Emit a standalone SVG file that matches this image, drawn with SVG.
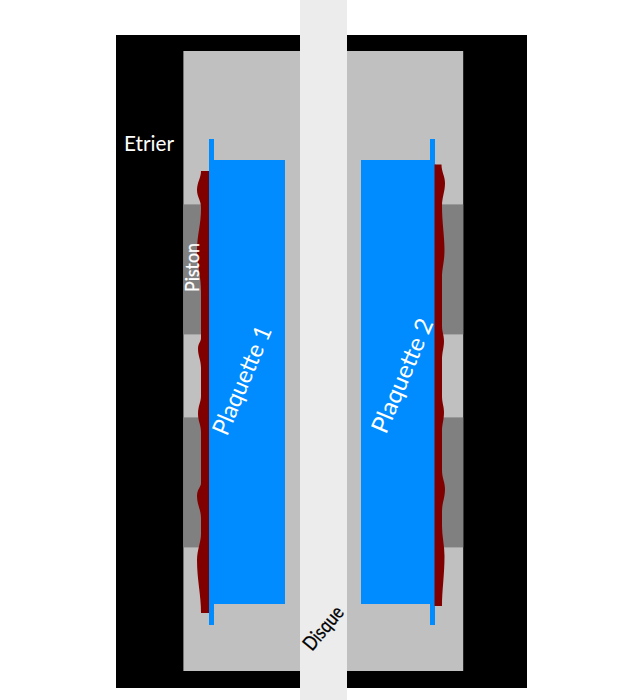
<svg xmlns="http://www.w3.org/2000/svg" width="639" height="700" viewBox="0 0 639 700">
<style>
.lbl{font-family:"Lato","Open Sans","Liberation Sans",sans-serif}
.pad{fill:#008cff}
.lining{fill:#800000}
.piston{fill:#808080}
</style>
<rect width="639" height="700" fill="#ffffff"/>
<g id="etrier">
<rect x="116" y="35" width="411" height="653" fill="#000000"/>
<rect x="183.4" y="51" width="279.8" height="620" fill="#c0c0c0"/>
<text class="lbl" x="124" y="151" font-size="22" font-weight="400" fill="#ffffff" textLength="50" lengthAdjust="spacingAndGlyphs">Etrier</text>
</g>
<g id="pistons">
<rect class="piston" x="183.4" y="204.4" width="20" height="130"/>
<rect class="piston" x="183.4" y="417.4" width="20" height="130"/>
<rect class="piston" x="440" y="204.4" width="23.2" height="130"/>
<rect class="piston" x="440" y="417.4" width="23.2" height="130"/>
</g>
<g id="disque">
<rect x="300" y="0" width="47" height="700" fill="#ececec"/>
<text class="lbl" font-size="20" font-weight="400" fill="#000000" stroke="#000000" stroke-width="0.3" textLength="51" lengthAdjust="spacingAndGlyphs" transform="translate(312 652) rotate(-50)">Disque</text>
</g>
<g id="garniture-1">
<path class="lining" d="M201 171 C201 178 197 182 197 190 C197 197 201 200 201 208 C201 225 197 235 197 250 C197 265 201 275 201 292 L201 338 C201 342 198 343 198 349 C198 356 201 360 201 368 L201 396 C201 402 198 406 198 414 C198 421 201 425 201 432 L201 483 C201 487 197 489 197 496 C197 505 201 510 201 518 L201 534 C201 542 197 550 197 560 C197 580 201 595 201 613 L209 613 L209 171 Z"/>
</g>
<g id="garniture-2">
<path class="lining" d="M434.5 164.5 L441.5 164.5 C441.5 172 445 176 445 183 C445 192 442 197 442 206 C442 222 444.5 236 444.5 250 C444.5 262 442 268 442 278 L442 326 C442 332 444 335 444 341 C444 348 442 352 442 360 L442 396 C442 403 444 406 444 412 C444 420 442 424 442 431 L442 470 C442 478 445 482 445 489 C445 498 442 503 442 512 L442 526 C442 536 444.5 546 444.5 556 C444.5 575 442 590 442 606 L434.5 606 Z"/>
</g>
<g id="plaquette-1">
<path class="pad" d="M209 139 H214 V160 H285 V604 H214 V625 H209 Z"/>
<text class="lbl" font-size="24" font-weight="400" fill="#ffffff" textLength="116" lengthAdjust="spacingAndGlyphs" transform="translate(227 437) rotate(-67)">Plaquette 1</text>
</g>
<g id="plaquette-2">
<path class="pad" d="M361 160 H430 V139 H435 V625 H430 V604 H361 Z"/>
<path class="lining" d="M434.5 164.5 H435.5 V606 H434.5 Z"/>
<text class="lbl" font-size="24" font-weight="400" fill="#ffffff" textLength="122" lengthAdjust="spacingAndGlyphs" transform="translate(386 435) rotate(-67)">Plaquette 2</text>
</g>
<g id="piston-label">
<text class="lbl" font-size="19" font-weight="400" fill="#ffffff" stroke="#ffffff" stroke-width="0.25" textLength="49" lengthAdjust="spacingAndGlyphs" transform="translate(199 292) rotate(-90)">Piston</text>
</g>
</svg>
